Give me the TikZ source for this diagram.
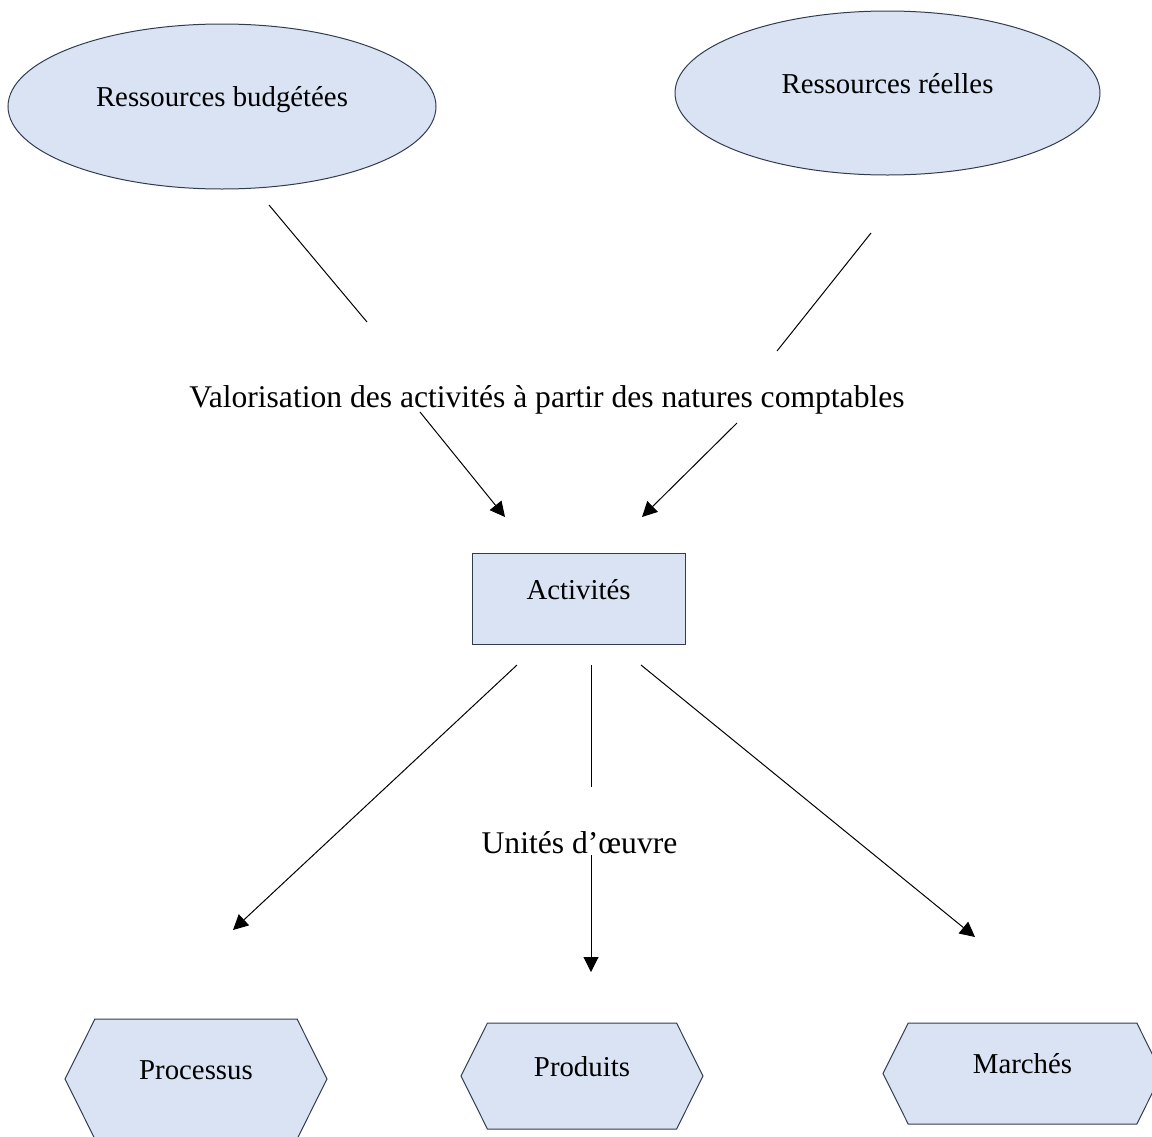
\documentclass[tikz,border=0pt]{standalone}
\usepackage{fontspec}
\setmainfont{Liberation Serif}
\usepackage{tikz}
\usetikzlibrary{shapes.geometric}
\usetikzlibrary{shapes.symbols}
\usetikzlibrary{arrows.meta}
\definecolor{shapefill}{RGB}{218,227,243}
\definecolor{shapeline}{RGB}{50,60,80}
\tikzstyle{shape_base}=[fill=shapefill, draw=shapeline, line width=0.5pt, inner sep=0pt, outer sep=0pt, font=\fontsize{14.4}{17}\selectfont, text height=0pt, text depth=0pt]
\tikzstyle{res_shape}=[ellipse, shape_base]
\tikzstyle{act_shape}=[rectangle, shape_base]
\tikzstyle{dest_shape}=[signal, signal to=east and west, signal pointer angle=127, shape_base]
\tikzstyle{free_txt}=[font=\fontsize{15.8}{19}\selectfont, anchor=base, inner sep=0pt]
\tikzstyle{link}=[line width=0.5pt]
\tikzstyle{link_arrow}=[link, -{Triangle[length=7.5pt,width=7.5pt]}]

\begin{document}
\begin{tikzpicture}[x=0.5pt, y=-0.5pt]
          \useasboundingbox (0,0) rectangle (1152,1136);
          \clip (0,0) rectangle (1152,1136);
          \node[res_shape, minimum width=214pt, minimum height=82.5pt] (ress1) at (222,106.5){Ressources budgétées};
          \node[res_shape, minimum width=212.5pt, minimum height=82pt] (ress2) at (887.5,93){Ressources réelles};
          \node[free_txt] (valo) at (547,407.3){Valorisation des activités à partir des natures comptables};
          \node[act_shape, minimum width=106.5pt, minimum height=45.5pt] (act) at (578.5,599){Activités};
          \node[free_txt] (unit) at (579.5,853){Unités d’œuvre};
          \node[dest_shape, minimum width=131pt, minimum height=60pt] (proc) at (196,1079){Processus};
          \node[dest_shape, minimum width=121pt, minimum height=53pt] (prod) at (582,1076){Produits};
          \node[dest_shape, minimum width=139.5pt, minimum height=50.5pt] (march) at (1022.5,1073.5){Marchés};
          \coordinate (l1a) at (269,205);
          \coordinate (l1b) at (367,322);
          \coordinate (l2a) at (871,233);
          \coordinate (l2b) at (777,351);
          \coordinate (a1a) at (420,412);
          \coordinate (a1b) at (505,517);
          \coordinate (a2a) at (737,423);
          \coordinate (a2b) at (642,517);
          \coordinate (a3a) at (517,665);
          \coordinate (a3b) at (233,930);
          \coordinate (v1a) at (591,665);
          \coordinate (v1b) at (591,787);
          \coordinate (a4a) at (591,855);
          \coordinate (a4b) at (591,972);
          \coordinate (a5a) at (641,665);
          \coordinate (a5b) at (975,937);
          \draw[link](l1a) -- (l1b);
          \draw[link](l2a) -- (l2b);
          \draw[link_arrow](a1a) -- (a1b);
          \draw[link_arrow](a2a) -- (a2b);
          \draw[link_arrow](a3a) -- (a3b);
          \draw[link](v1a) -- (v1b);
          \draw[link_arrow](a4a) -- (a4b);
          \draw[link_arrow](a5a) -- (a5b);
        \end{tikzpicture}
\end{document}
